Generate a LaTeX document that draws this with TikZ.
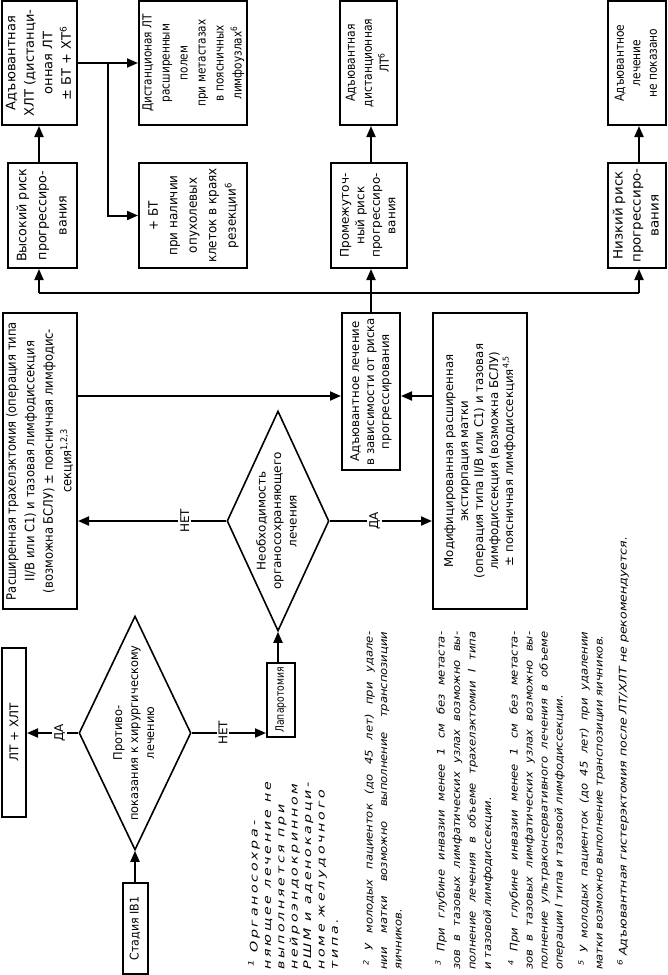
\documentclass[tikz,border=0pt]{standalone}
\usepackage{fontspec}
\setmainfont{DejaVu Sans}
\usepackage{graphicx}
\usetikzlibrary{arrows.meta,shapes.geometric,calc}
\newcommand\setf[3]{\fontsize{#1}{#2}\selectfont\addfontfeature{FakeStretch=#3}}
\newcommand\rtxt[1]{\rotatebox{90}{\begin{tabular}{@{}c@{}}#1\end{tabular}}}
\newcommand\jl[1]{\makebox[338pt][s]{#1}}
\begin{document}
\begin{tikzpicture}[x=1pt,y=-1pt,
  box/.style={draw, line width=2pt, inner sep=0pt, rectangle},
  dia/.style={draw, line width=1.6pt, diamond, inner sep=0pt},
  ln/.style={line width=2pt},
  arr/.style={line width=2pt, -{Triangle[length=11pt,width=9pt]}},
  lbl/.style={fill=white, inner sep=2pt, rotate=90, font=\setf{12}{14}{1}},
  fnote/.style={rotate=90, anchor=north west, inner sep=0pt, align=left}]
\useasboundingbox (0,0) rectangle (668,975);
% top row
\node[box, minimum width=75pt, minimum height=124pt] (A) at (39.5,63)
  {\setf{13}{18.5}{1}\rtxt{Адъювантная\\ХЛТ (дистанци-\\онная ЛТ\\± БТ + ХТ\textsuperscript{6}}};
\node[box, minimum width=108pt, minimum height=124pt] (B) at (193,63)
  {\setf{12.5}{18}{0.84}\rtxt{Дистанционая ЛТ\\расширенным\\полем\\при метастазах\\в поясничных\\лимфоузлах\textsuperscript{6}}};
\node[box, minimum width=57pt, minimum height=124pt] (C) at (368.5,63)
  {\setf{12.5}{17}{0.86}\rtxt{Адъювантная\\дистанционная\\ЛТ\textsuperscript{6}}};
\node[box, minimum width=58pt, minimum height=124pt] (D) at (637,63)
  {\setf{12.5}{16.5}{0.85}\rtxt{Адъювантное\\лечение\\не показано}};
% second row
\node[box, minimum width=69pt, minimum height=105pt] (E) at (42.5,215.5)
  {\setf{13}{20}{0.98}\rtxt{Высокий риск\\прогрессиро-\\вания}};
\node[box, minimum width=108pt, minimum height=105pt] (F) at (193,215.5)
  {\setf{13}{19.5}{0.92}\rtxt{+ БТ\\при наличии\\опухолевых\\клеток в краях\\резекции\textsuperscript{6}}};
\node[box, minimum width=76pt, minimum height=105pt] (G) at (369,215.5)
  {\setf{12}{15.5}{1}\rtxt{Промежуточ-\\ный риск\\прогрессиро-\\вания}};
\node[box, minimum width=58pt, minimum height=105pt] (H) at (637,215.5)
  {\setf{13}{18}{1.03}\rtxt{Низкий риск\\прогрессиро-\\вания}};
% third row
\node[box, minimum width=58pt, minimum height=157pt] (I) at (371,391.5)
  {\setf{12}{15}{0.98}\rtxt{Адъювантное лечение\\в зависимости от риска\\прогрессирования}};
\node[box, minimum width=74pt, minimum height=296pt] (J) at (40,461)
  {\setf{13}{18.5}{0.89}\rtxt{Расширенная трахелэктомия (операция типа\\II/B или C1) и тазовая лимфодиссекция\\(возможна БСЛУ) ± поясничная лимфодис-\\секция\textsuperscript{1,2,3}}};
\node[box, minimum width=94pt, minimum height=296pt] (K) at (480,461)
  {\setf{12}{15}{0.98}\rtxt{Модифицированная расширенная\\экстирпация матки\\(операция типа II/B или C1) и тазовая\\лимфодиссекция (возможна БСЛУ)\\± поясничная лимфодиссекция\textsuperscript{4,5}}};
% diamonds
\node[dia, minimum width=102pt, minimum height=220pt] (D1) at (278,521) {};
\node (D1t) at (D1.center) {\setf{12}{15.5}{1}\rtxt{Необходимость\\органосохраняющего\\лечения}};
\node[dia, minimum width=112pt, minimum height=234pt] (D2) at (135,733) {};
\node (D2t) at (D2.center) {\setf{12}{16}{0.95}\rtxt{Противо-\\показания к хирургическому\\лечению}};
% bottom boxes
\node[box, minimum width=24pt, minimum height=169pt] (L) at (14,732.5)
  {\setf{12}{14}{1}\rotatebox{90}{ЛТ + ХЛТ}};
\node[box, minimum width=25pt, minimum height=91pt] (M) at (135,928.5)
  {\setf{12}{14}{0.92}\rotatebox{90}{Стадия IB1}};
\node[box, minimum width=28pt, minimum height=74pt] (N) at (281,700)
  {\setf{11.5}{14}{0.8}\rotatebox{90}{Лапаротомия}};
% connectors
\coordinate (bus) at (0,293);
\coordinate (c1) at (39,0);
\coordinate (c3) at (639,0);
\coordinate (jy) at (0,396);
\draw[ln] (c1 |- bus) -- (c3 |- bus);
\draw[arr] (c1 |- bus) -- (c1 |- E.south);
\draw[arr] (c1 |- E.north) -- (c1 |- A.south);
\draw[ln] (I.north) -- (I.north |- bus);
\draw[arr] (I.north |- bus) -- (I.north |- G.south);
\draw[arr] (I.north |- G.north) -- (I.north |- C.south);
\draw[arr] (c3 |- bus) -- (c3 |- H.south);
\draw[arr] (c3 |- H.north) -- (c3 |- D.south);
\draw[arr] (A.east) -- (A.east -| B.west);
\draw[arr] ($(A.east)!0.5!(A.east -| B.west)$) |- (F.west);
\draw[arr] (J.east |- jy) -- (I.west |- jy);
\draw[arr] (K.west |- jy) -- (I.east |- jy);
\draw[arr] (D1.west) -- node[lbl, pos=0.28]{НЕТ} (D1.west -| J.east);
\draw[arr] (D1.east) -- node[lbl, pos=0.44]{ДА} (D1.east -| K.west);
\draw[arr] (D1.south |- N.north) -- (D1.south);
\draw[arr] (M.north) -- (D2.south);
\draw[arr] (D2.west) -- node[lbl, pos=0.36]{ДА} (D2.west -| L.east);
\draw[arr] (D2.east) -- node[lbl, pos=0.42]{НЕТ} (D2.east -| N.west);
% footnotes
\node[fnote, font=\itshape\setf{10.5}{13.4}{1.35}\addfontfeature{LetterSpace=26}] (fn1) at (248,970)
  {\hspace*{3pt}\textsuperscript{1}\ Органосохра-\\няющее лечение не\\выполняется при\\нейроэндокринном\\РШМ и аденокарци-\\номе желудочного\\типа.};
\node[fnote, font=\itshape\setf{10.5}{14.5}{1.1}] (fn2) at (363,970)
  {\jl{\hspace*{4pt}\textsuperscript{2}\ У молодых пациенток (до 45 лет) при удале-}\\\jl{нии матки возможно выполнение транспозиции}\\яичников.};
\node[fnote, font=\itshape\setf{10.5}{15.5}{1.1}] (fn3) at (435,970)
  {\jl{\hspace*{4pt}\textsuperscript{3}\ При глубине инвазии менее 1 см без метаста-}\\\jl{зов в тазовых лимфатических узлах возможно вы-}\\\jl{полнение лечения в объеме трахелэктомии I типа}\\и тазовой лимфодиссекции.};
\node[fnote, font=\itshape\setf{10.5}{15}{1.1}] (fn4) at (508,970)
  {\jl{\hspace*{4pt}\textsuperscript{4}\ При глубине инвазии менее 1 см без метаста-}\\\jl{зов в тазовых лимфатических узлах возможно вы-}\\\jl{полнение ультраконсервативного лечения в объеме}\\операции I типа и тазовой лимфодиссекции.};
\node[fnote, font=\itshape\setf{10.5}{15}{1.1}] (fn5) at (578,970)
  {\jl{\hspace*{4pt}\textsuperscript{5}\ У молодых пациенток (до 45 лет) при удалении}\\матки возможно выполнение транспозиции яичников.};
\node[fnote, font=\itshape\setf{10.5}{15}{1.2}] (fn6) at (617,970)
  {\hspace*{4pt}\textsuperscript{6}\ Адъювантная гистерэктомия после ЛТ/ХЛТ не рекомендуется.};
\end{tikzpicture}
\end{document}
